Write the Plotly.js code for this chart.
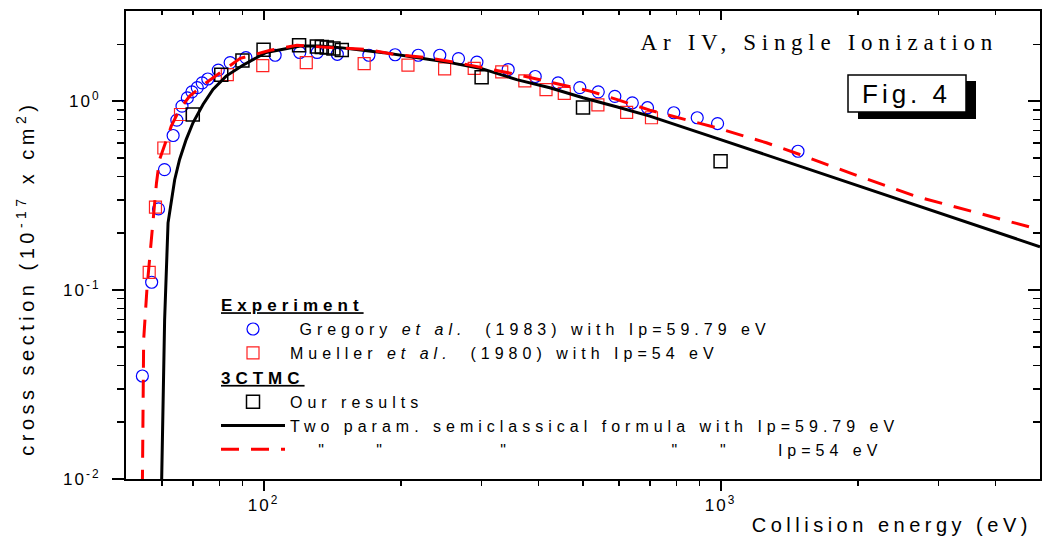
<!DOCTYPE html>
<html>
<head>
<meta charset="utf-8">
<script src="https://cdn.plot.ly/plotly-3.0.1.min.js"></script>
<style>
body{margin:0;background:#fff}
#chart{width:1043px;height:543px}
.xtick text,.ytick text{letter-spacing:2px}
.legendtext{letter-spacing:5px}
.gtitle{letter-spacing:5.7px}
.annotation[data-index="0"] text{letter-spacing:4.5px}
.annotation[data-index="1"] text{letter-spacing:4.5px}
.annotation[data-index="2"] text{letter-spacing:4px}
</style>
</head>
<body>
<div id="chart"></div>
<script>
// Gregory et al. (1983), Ip = 59.79 eV
const gregE = [54.3,56.9,58.9,60.7,63.4,64.6,66.3,68.1,69.7,71.6,73.4,75.5,79.6,84.5,91.5,106,120,131,145,170,194,218,243,267,293,343,393,441,492,540,587,641,692,790,889,985,1477];
const gregS = [0.0351,0.110,0.269,0.434,0.658,0.793,0.941,1.04,1.12,1.18,1.25,1.31,1.46,1.60,1.70,1.75,1.81,1.81,1.77,1.75,1.76,1.75,1.75,1.68,1.61,1.47,1.35,1.25,1.18,1.12,1.06,0.98,0.923,0.868,0.817,0.761,0.543];
// Mueller et al. (1980), Ip = 54 eV
const muelE = [56.2,58.0,60.5,65.8,83.3,99.6,124,166,207,249,289,332,373,415,455,539,623,706];
const muelS = [0.124,0.275,0.565,0.85,1.38,1.54,1.60,1.58,1.55,1.48,1.49,1.43,1.28,1.15,1.10,0.955,0.871,0.817];
// 3CTMC, our results
const ourE = [70.0,80.8,89.9,100,119.6,130.8,134.1,137.5,142.2,148.3,300,500,1000];
const ourS = [0.85,1.38,1.64,1.87,1.975,1.944,1.935,1.92,1.897,1.865,1.336,0.926,0.48];
// Two param. semiclassical formula, Ip = 59.79 eV
const semiE = [59.8,60.2,60.74,61.8,63.9,65.5,67.7,70.07,73.7,77.5,82.8,90.1,101.3,120.3,133,147,183,216,256,299,358,423,500,592,700,1000,2000,5000];
const semiS = [0.009,0.0262,0.0695,0.227,0.384,0.491,0.626,0.768,0.960,1.154,1.357,1.55,1.81,1.958,1.958,1.92,1.806,1.70,1.599,1.49,1.30,1.178,1.042,0.934,0.833,0.626,0.357,0.1695];
// Two param. semiclassical formula, Ip = 54 eV
const semi54E = [54.3,54.5,54.65,55.6,56.5,57.4,58.3,59.2,60.7,62.8,65.5,68.9,74.9,81.5,88.9,103.4,118.3,139.9,168.3,192.3,227.6,264.7,313,358,423,518,592,700,980,1260,1490,1917,2682,5000];
const semi54S = [0.009,0.03,0.0544,0.1036,0.163,0.245,0.369,0.49,0.577,0.737,0.904,1.063,1.252,1.443,1.685,1.858,1.975,1.92,1.88,1.769,1.70,1.60,1.473,1.385,1.261,1.13,1.021,0.896,0.723,0.602,0.522,0.417,0.313,0.2086];

// ticks
const xTickVals = [100, 1000];
const xTickText = ['10<sup>2</sup>', '10<sup>3</sup>'];
const xMinor = [60,70,80,90,200,300,400,500,600,700,800,900,2000,3000,4000];
const yTickVals = [0.01, 0.1, 1];
const yTickText = ['10<sup>-2</sup>', '10<sup>-1</sup>', '10<sup>0</sup>'];
const yMinor = [0.02,0.03,0.04,0.05,0.06,0.07,0.08,0.09,0.2,0.3,0.4,0.5,0.6,0.7,0.8,0.9,2];

const SANS = 'Liberation Sans, Arial, sans-serif';
const nb = n => '\u00a0'.repeat(n);

const traces = [
  {x: gregE, y: gregS, type: 'scatter', mode: 'markers',
   name: nb(1) + 'Gregory <i>et al.</i>' + nb(2) + '(1983) with Ip=59.79 eV',
   legendgroup: 'exp', legendgrouptitle: {text: '<b><u>Experiment</u></b>', font: {family: SANS, size: 17, color: '#000'}},
   marker: {symbol: 'circle-open', size: 12, color: '#0000ff', line: {width: 1.2, color: '#0000ff'}}},
  {x: muelE, y: muelS, type: 'scatter', mode: 'markers',
   name: 'Mueller <i>et al.</i>' + nb(2) + '(1980) with Ip=54 eV',
   legendgroup: 'exp',
   marker: {symbol: 'square-open', size: 12, color: '#ff2020', line: {width: 1.2, color: '#ff2020'}}},
  {x: ourE, y: ourS, type: 'scatter', mode: 'markers',
   name: 'Our results',
   legendgroup: 'ctmc', legendgrouptitle: {text: '<b><u>3CTMC</u></b>', font: {family: SANS, size: 17, color: '#000'}},
   marker: {symbol: 'square-open', size: 13, color: '#000', line: {width: 1.5, color: '#000'}}},
  {x: semiE, y: semiS, type: 'scatter', mode: 'lines',
   name: 'Two param. semiclassical formula with Ip=59.79 eV',
   legendgroup: 'ctmc',
   line: {color: '#000', width: 3}},
  {x: semi54E, y: semi54S, type: 'scatter', mode: 'lines',
   name: nb(3) + '"' + nb(5) + '"' + nb(12) + '"' + nb(17) + '"' + nb(4) + '"' + nb(5) + 'Ip=54 eV',
   legendgroup: 'ctmc',
   line: {color: '#ff0000', width: 3, dash: '18px,12px'}},
  // empty traces that only register the mirrored top and right axes
  {x: [], y: [], type: 'scatter', mode: 'markers', xaxis: 'x2', yaxis: 'y', showlegend: false, hoverinfo: 'skip'},
  {x: [], y: [], type: 'scatter', mode: 'markers', xaxis: 'x', yaxis: 'y2', showlegend: false, hoverinfo: 'skip'}
];

const W = 914, H = 468, L = 126, T = 11;
const px = v => (v - L) / W;
const py = v => (T + H - v) / H;

const layout = {
  width: 1043, height: 543,
  margin: {l: L, r: 3, t: T, b: 64, pad: 0},
  paper_bgcolor: '#fff', plot_bgcolor: '#fff',
  font: {family: SANS, size: 16, color: '#000'},
  hovermode: false,
  showlegend: true,
  title: {text: 'Ar IV, Single Ionization', font: {family: 'Liberation Serif, Times New Roman, serif', size: 23, color: '#000'},
          xref: 'paper', x: px(998), xanchor: 'right', yref: 'paper', y: py(42), yanchor: 'middle'},
  legend: {x: px(216), y: py(287), xanchor: 'left', yanchor: 'top', bgcolor: 'rgba(0,0,0,0)', borderwidth: 0,
           itemwidth: 64, tracegroupgap: 0, traceorder: 'grouped', font: {family: SANS, size: 16, color: '#000'},
           itemclick: false, itemdoubleclick: false},
  xaxis: {type: 'log', range: [Math.log10(50), Math.log10(5000)], showline: true, linecolor: '#000', linewidth: 2,
          ticks: 'outside', ticklen: 10, tickwidth: 2, tickcolor: '#000', tickmode: 'array', tickvals: xTickVals, ticktext: xTickText,
          minor: {tickmode: 'array', tickvals: xMinor, ticks: 'outside', ticklen: 5, tickwidth: 1.5, tickcolor: '#000', showgrid: false},
          showgrid: false, zeroline: false, tickfont: {family: SANS, size: 17, color: '#000'}},
  yaxis: {type: 'log', range: [-2, Math.log10(3)], showline: true, linecolor: '#000', linewidth: 2,
          ticks: 'outside', ticklen: 12, tickwidth: 2, tickcolor: '#000', tickmode: 'array', tickvals: yTickVals, ticktext: yTickText,
          minor: {tickmode: 'array', tickvals: yMinor, ticks: 'outside', ticklen: 7, tickwidth: 1.5, tickcolor: '#000', showgrid: false},
          showgrid: false, zeroline: false, ticklabelstandoff: 8, tickfont: {family: SANS, size: 17, color: '#000'}},
  xaxis2: {type: 'log', overlaying: 'x', side: 'top', anchor: 'y', range: [Math.log10(50), Math.log10(5000)],
           showline: true, linecolor: '#000', linewidth: 2, ticks: 'inside', ticklen: 9, tickwidth: 2, tickcolor: '#000',
           tickmode: 'array', tickvals: xTickVals, showticklabels: false,
           minor: {tickmode: 'array', tickvals: xMinor, ticks: 'inside', ticklen: 4, tickwidth: 1.5, tickcolor: '#000', showgrid: false},
           showgrid: false, zeroline: false},
  yaxis2: {type: 'log', overlaying: 'y', side: 'right', anchor: 'x', range: [-2, Math.log10(3)],
           showline: true, linecolor: '#000', linewidth: 2, ticks: 'inside', ticklen: 12, tickwidth: 2, tickcolor: '#000',
           tickmode: 'array', tickvals: yTickVals, showticklabels: false,
           minor: {tickmode: 'array', tickvals: yMinor, ticks: 'inside', ticklen: 7, tickwidth: 1.5, tickcolor: '#000', showgrid: false},
           showgrid: false, zeroline: false},
  shapes: [
    {type: 'rect', xref: 'paper', yref: 'paper', x0: px(858), x1: px(976), y0: py(119), y1: py(81),
     fillcolor: '#000', line: {width: 0}, layer: 'above'},
    {type: 'rect', xref: 'paper', yref: 'paper', x0: px(848), x1: px(966), y0: py(112), y1: py(75),
     fillcolor: '#fff', line: {width: 1.5, color: '#000'}, layer: 'above'}
  ],
  annotations: [
    {text: 'Collision energy (eV)', xref: 'paper', yref: 'paper', x: px(892), y: py(525), xanchor: 'center', yanchor: 'middle',
     showarrow: false, font: {family: SANS, size: 20, color: '#000'}},
    {text: 'cross section (10<sup>-17</sup> x cm<sup>2</sup>)', xref: 'paper', yref: 'paper', x: px(25), y: py(278),
     xanchor: 'center', yanchor: 'middle', textangle: -90, showarrow: false, font: {family: SANS, size: 20, color: '#000'}},
    {text: 'Fig. 4', xref: 'paper', yref: 'paper', x: px(906), y: py(94), xanchor: 'center', yanchor: 'middle',
     showarrow: false, font: {family: SANS, size: 26, color: '#000'}}
  ]
};

Plotly.newPlot('chart', traces, layout, {displayModeBar: false, staticPlot: true});
</script>
</body>
</html>
